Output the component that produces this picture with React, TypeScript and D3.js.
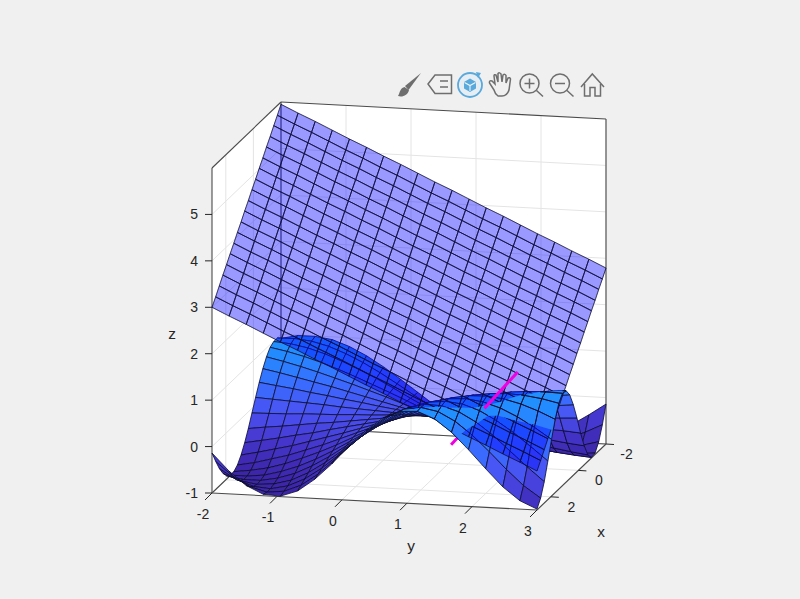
import { useEffect, useRef } from 'react'
import * as d3 from 'd3'

// grid positions, shared by both surfaces
const xGrid = [-2, -1.737, -1.474, -1.211, -0.947, -0.684, -0.421, -0.158, 0.105, 0.368, 0.632, 0.895, 1.158, 1.421, 1.684, 1.947, 2.211, 2.474, 2.737, 3]
const yGrid = xGrid

// wavy surface heights, one row per x
const surfaceZ = [
  [.91, .99, .99, .94, .81, .63, .41, .16, -.10, -.36, -.59, -.78, -.92, -.99, -.99, -.93, -.80, -.62, -.39, -.14],
  [.99, 1.0, .96, .87, .73, .56, .36, .14, -.09, -.31, -.52, -.70, -.85, -.94, -.99, -.99, -.94, -.84, -.69, -.51],
  [.99, .96, .89, .78, .64, .48, .31, .12, -.08, -.27, -.45, -.61, -.75, -.87, -.95, -.99, -1.0, -.97, -.90, -.80],
  [.94, .87, .78, .67, .54, .40, .25, .10, -.06, -.22, -.37, -.52, -.65, -.76, -.85, -.92, -.97, -1.0, -1.0, -.97],
  [.81, .73, .64, .54, .43, .32, .20, .08, -.05, -.17, -.30, -.41, -.52, -.62, -.72, -.80, -.87, -.92, -.96, -.99],
  [.63, .56, .48, .40, .32, .23, .14, .05, -.04, -.13, -.21, -.30, -.39, -.47, -.55, -.62, -.69, -.75, -.81, -.86],
  [.41, .36, .31, .25, .20, .14, .09, .03, -.02, -.08, -.13, -.19, -.24, -.30, -.35, -.40, -.45, -.50, -.55, -.59],
  [.16, .14, .12, .10, .08, .05, .03, .01, -.01, -.03, -.05, -.07, -.09, -.11, -.13, -.15, -.17, -.19, -.21, -.24],
  [-.10, -.09, -.08, -.06, -.05, -.04, -.02, -.01, .01, .02, .03, .05, .06, .08, .09, .10, .12, .13, .14, .16],
  [-.36, -.31, -.27, -.22, -.17, -.13, -.08, -.03, .02, .07, .12, .16, .21, .26, .31, .35, .40, .44, .48, .52],
  [-.59, -.52, -.45, -.37, -.30, -.21, -.13, -.05, .03, .12, .20, .28, .36, .43, .51, .58, .64, .71, .76, .81],
  [-.78, -.70, -.61, -.52, -.41, -.30, -.19, -.07, .05, .16, .28, .39, .50, .59, .68, .77, .84, .89, .94, .97],
  [-.92, -.85, -.75, -.65, -.52, -.39, -.24, -.09, .06, .21, .36, .50, .62, .73, .83, .90, .96, .99, 1.0, .99],
  [-.99, -.94, -.87, -.76, -.62, -.47, -.30, -.11, .08, .26, .43, .59, .73, .85, .93, .98, 1.0, .98, .93, .85],
  [-.99, -.99, -.95, -.85, -.72, -.55, -.35, -.13, .09, .31, .51, .68, .83, .93, .99, 1.0, .96, .87, .74, .58],
  [-.93, -.99, -.99, -.92, -.80, -.62, -.40, -.15, .10, .35, .58, .77, .90, .98, 1.0, .95, .84, .67, .46, .22],
  [-.80, -.94, -1.0, -.97, -.87, -.69, -.45, -.17, .12, .40, .64, .84, .96, 1.0, .96, .84, .64, .40, .12, -.17],
  [-.62, -.84, -.97, -1.0, -.92, -.75, -.50, -.19, .13, .44, .71, .89, .99, .98, .87, .67, .40, .08, -.24, -.54],
  [-.39, -.69, -.90, -1.0, -.96, -.81, -.55, -.21, .14, .48, .76, .94, 1.0, .93, .74, .46, .12, -.24, -.57, -.82],
  [-.14, -.51, -.80, -.97, -.99, -.86, -.59, -.24, .16, .52, .81, .97, .99, .85, .58, .22, -.17, -.54, -.82, -.98],
]

// the flat sheet: height = planeByX[i] + planeByY[j]
const planeByX = [0, -.16, -.31, -.47, -.62, -.78, -.93, -1.09, -1.24, -1.40, -1.55, -1.71, -1.86, -2.02, -2.17, -2.33, -2.48, -2.64, -2.80, -2.95]
const planeByY = [5.95, 5.78, 5.62, 5.45, 5.28, 5.12, 4.95, 4.79, 4.62, 4.45, 4.29, 4.12, 3.95, 3.79, 3.62, 3.45, 3.29, 3.12, 2.96, 2.79]
// the wave pokes through the sheet a little earlier than the read heights say
const sheetGap = 0.15

// magenta line: low end, where it meets the sheet, high end
const lineX = [1.5, 2.1, 2.7]
const lineY = [1.36, 2.0, 2.64]
const lineZ = [-.14, .86, 1.86]

const xTicks = [-2, 0, 2]
const yTicks = [-2, -1, 0, 1, 2, 3]
const zTicks = [-1, 0, 1, 2, 3, 4, 5]

const xLim = [-2, 3]
const yLim = [-2, 3]
const zLim = [-1, 6]

const font = '"Liberation Sans", Arial, sans-serif'
const ink = '#262626'
const gridColor = '#e4e4e4'

// each data axis maps to a screen offset from the far bottom corner
const origin = [281, 427]
const xToH = d3.scaleLinear().domain(xLim).range([0, -69])
const xToV = d3.scaleLinear().domain(xLim).range([0, 66])
const yToH = d3.scaleLinear().domain(yLim).range([0, 325])
const yToV = d3.scaleLinear().domain(yLim).range([0, 17])
const zToV = d3.scaleLinear().domain(zLim).range([0, -325])

type P3 = [number, number, number]
const project = ([x, y, z]: P3): [number, number] => [
  origin[0] + xToH(x) + yToH(y),
  origin[1] + xToV(x) + yToV(y) + zToV(z),
]

// painter's order, bigger means closer to the camera
const depthX = d3.scaleLinear().domain(xLim).range([0, 105300])
const depthY = d3.scaleLinear().domain(yLim).range([0, 22425])
const depthZ = d3.scaleLinear().domain(zLim).range([0, 22557])
const depth = (pts: P3[]) => d3.mean(pts, (p) => depthX(p[0]) + depthY(p[1]) + depthZ(p[2])) as number

const colormap = d3.scaleLinear<string>()
  .domain([-1, -0.5, 0, 0.5, 1])
  .range(['#3b26a6', '#4433c8', '#4a50f0', '#3a6cff', '#2090ff'])

const path = d3.line()
const edgeColor = '#0c0c30'

type Quad = { pts: P3[]; z: number; gaps: number[] }

function quads(heights: (i: number, j: number) => number) {
  const out: Quad[] = []
  const corners = [[0, 0], [1, 0], [1, 1], [0, 1]]
  for (let i = 0; i < xGrid.length - 1; i++) {
    for (let j = 0; j < yGrid.length - 1; j++) {
      out.push({
        z: heights(i, j),
        pts: corners.map(([a, b]) => [xGrid[i + a], yGrid[j + b], heights(i + a, j + b)] as P3),
        gaps: corners.map(([a, b]) => heights(i + a, j + b) - (planeByX[i + a] + planeByY[j + b]) + sheetGap),
      })
    }
  }
  return out
}

const mix = (a: P3, b: P3, t: number): P3 => [
  d3.interpolateNumber(a[0], b[0])(t),
  d3.interpolateNumber(a[1], b[1])(t),
  d3.interpolateNumber(a[2], b[2])(t),
]

// the bit of a quad that stands above the sheet, and its visible edge pieces
function abovePart(q: Quad) {
  const poly: P3[] = []
  const edges: [P3, P3][] = []
  q.pts.forEach((a, k) => {
    const n = (k + 1) % 4
    const b = q.pts[n]
    const fa = q.gaps[k]
    const fb = q.gaps[n]
    const cut = fa * fb < 0 ? mix(a, b, fa / (fa - fb)) : null
    if (fa > 0) poly.push(a)
    if (cut) poly.push(cut)
    if (fa > 0 && fb > 0) edges.push([a, b])
    else if (fa > 0 && cut) edges.push([a, cut])
    else if (fb > 0 && cut) edges.push([cut, b])
  })
  return { poly, edges, z: q.z }
}

function Toolbar() {
  const grey = '#6e6e6e'
  const blue = '#5aa9dc'
  const line = { fill: 'none', stroke: grey, strokeWidth: 1.5 }
  return (
    <g>
      {/* brush */}
      <path d="M421,73 L405,86 L408.5,90 Z" fill={grey} />
      <path d="M404.5,87 C401,88 400,91 399,94 L398,96 C402,97.5 408,95.5 409,90 Z" fill={grey} />
      {/* legend */}
      <path d="M428,84 L435,75 L451.5,75 L451.5,93.5 L435,93.5 Z" {...line} />
      <path d="M440,81 L448,81 M440,87 L448,87" {...line} />
      {/* rotate */}
      <circle cx={470} cy={85} r={12} fill="#dcebf5" fillOpacity={0.5} stroke={blue} strokeWidth={1.8} />
      <path d="M476,72 L481,73 L478,78 Z" fill={blue} />
      <path d="M470,78.5 L476,82 L476,88.5 L470,92 L464,88.5 L464,82 Z" fill={blue} />
      <path d="M464.5,82.5 L470,85.5 L475.5,82.5 M470,85.5 L470,91" fill="none" stroke="#eef5fa" strokeWidth={1.1} />
      {/* hand */}
      <path d="M494,90 L489.5,83 Q489,80 492,81 L495,84 L494,76 Q494,74 496,75 L498,82 L498,73.5 Q499.5,72 501,74 L502,82 L503,75 Q505,73.5 506,75.5 L506,83 L508,78 Q510,77 510.5,79 L509,90 Q507,96 502,96 L498,96 Q495,94 494,90 Z" {...line} />
      {/* zoom in */}
      <circle cx={529.5} cy={83.5} r={9.5} {...line} />
      <path d="M536.5,90.5 L543,96.5 M524.5,83.5 L534.5,83.5 M529.5,78.5 L529.5,88.5" {...line} />
      {/* zoom out */}
      <circle cx={560} cy={83.5} r={9.5} {...line} />
      <path d="M567,90.5 L573.5,96.5 M555,83.5 L565,83.5" {...line} />
      {/* home */}
      <path d="M581,87 L592.3,74 L604,87" {...line} />
      <path d="M584.5,84 L584.5,96 L590,96 L590,87.5 L595,87.5 L595,96 L600.5,96 L600.5,84" {...line} />
    </g>
  )
}

export default function App() {
  const plotRef = useRef<SVGGElement>(null)

  useEffect(() => {
    const g = d3.select(plotRef.current)
    g.selectAll('*').remove()

    const [x0, x1] = xLim
    const [y0, y1] = yLim
    const [z0, z1] = zLim

    // white walls and floor
    const outline: P3[] = [
      [x1, y0, z1], [x0, y0, z1], [x0, y1, z1], [x0, y1, z0], [x1, y1, z0], [x1, y0, z0],
    ]
    g.append('path').attr('d', path(outline.map(project)) + 'Z').attr('fill', '#fff')

    const seg = (a: P3, b: P3, color: string, w = 1) =>
      g.append('path')
        .attr('d', path([a, b].map(project)))
        .attr('stroke', color)
        .attr('stroke-width', w)
        .attr('fill', 'none')

    // grid on the two walls and the floor
    yTicks.forEach((y) => {
      seg([x1, y, z0], [x0, y, z0], gridColor)
      seg([x0, y, z0], [x0, y, z1], gridColor)
    })
    xTicks.forEach((x) => {
      seg([x, y0, z0], [x, y1, z0], gridColor)
      seg([x, y0, z0], [x, y0, z1], gridColor)
    })
    zTicks.forEach((z) => {
      seg([x1, y0, z], [x0, y0, z], gridColor)
      seg([x0, y0, z], [x0, y1, z], gridColor)
    })

    // box edges behind the surfaces
    const boxEdges: [P3, P3][] = [
      [[x0, y0, z0], [x0, y0, z1]],
      [[x0, y0, z0], [x0, y1, z0]],
      [[x0, y0, z0], [x1, y0, z0]],
      [[x0, y0, z1], [x0, y1, z1]],
      [[x0, y0, z1], [x1, y0, z1]],
      [[x1, y0, z0], [x1, y0, z1]],
      [[x0, y1, z0], [x0, y1, z1]],
      [[x1, y0, z0], [x1, y1, z0]],
      [[x1, y1, z0], [x0, y1, z0]],
    ]
    boxEdges.forEach(([a, b]) => seg(a, b, '#4a4a4a', 1.1))

    // ticks and labels
    const tickText = (pos: [number, number], label: string | number, anchor = 'middle', size = 14) =>
      g.append('text')
        .attr('x', pos[0])
        .attr('y', pos[1])
        .attr('text-anchor', anchor)
        .attr('dominant-baseline', 'central')
        .attr('font-family', font)
        .attr('font-size', size)
        .attr('fill', ink)
        .text(label)

    zTicks.forEach((z) => {
      const [px, py] = project([x1, y0, z])
      g.append('path').attr('d', path([[px, py], [px - 7, py]])).attr('stroke', ink)
      tickText([px - 14, py], z, 'end')
    })
    yTicks.forEach((y) => {
      const [px, py] = project([x1, y, z0])
      g.append('path').attr('d', path([[px, py], [px - 7, py + 7]])).attr('stroke', ink)
      tickText([px - 9, py + 21], y)
    })
    xTicks.forEach((x) => {
      const [px, py] = project([x, y1, z0])
      g.append('path').attr('d', path([[px, py], [px + 8, py + 0.5]])).attr('stroke', ink)
      tickText([px + 20.5, py + 10], x)
    })
    tickText([172, 333], 'z', 'middle', 15.4)
    tickText([411, 545], 'y', 'middle', 15.4)
    tickText([601, 531], 'x', 'middle', 15.4)

    // soft edges like the photographed original
    const marks = g.append('g').attr('filter', 'url(#soft)')

    const pt = (k: number): P3 => [lineX[k], lineY[k], lineZ[k]]
    const magenta = (a: number, b: number) =>
      marks.append('path')
        .attr('d', path([pt(a), pt(b)].map(project)))
        .attr('stroke', '#f000e0')
        .attr('stroke-width', 3)
        .attr('fill', 'none')

    // lower part of the line sits under the wave
    magenta(0, 1)

    const wave = quads((i, j) => surfaceZ[i][j])
    wave.sort((a, b) => depth(a.pts) - depth(b.pts))
    marks.append('g').selectAll('path')
      .data(wave)
      .join('path')
      .attr('d', (d) => path(d.pts.map(project)) + 'Z')
      .attr('fill', (d) => colormap(d.z))
      .attr('stroke', edgeColor)
      .attr('stroke-width', 0.8)
      .attr('stroke-linejoin', 'round')

    const sheet = quads((i, j) => planeByX[i] + planeByY[j])
    marks.append('g').selectAll('path')
      .data(sheet)
      .join('path')
      .attr('d', (d) => path(d.pts.map(project)) + 'Z')
      .attr('fill', '#0000ff')
      .attr('fill-opacity', 0.4)
      .attr('stroke', edgeColor)
      .attr('stroke-width', 0.8)

    // wave parts that stand in front of the sheet
    const above = wave.map(abovePart).filter((d) => d.poly.length > 2)
    marks.append('g').selectAll('path')
      .data(above)
      .join('path')
      .attr('d', (d) => path(d.poly.map(project)) + 'Z')
      .attr('fill', (d) => colormap(d.z))
    marks.append('g').selectAll('path')
      .data(above.flatMap((d) => d.edges))
      .join('path')
      .attr('d', (d) => path(d.map(project)))
      .attr('fill', 'none')
      .attr('stroke', edgeColor)
      .attr('stroke-width', 0.8)

    magenta(1, 2)
  }, [])

  return (
    <svg
      width={800}
      height={599}
      style={{ position: 'absolute', left: 0, top: 0, background: '#f0f0f0' }}
    >
      <defs>
        <filter id="soft" x="-5%" y="-5%" width="110%" height="110%">
          <feGaussianBlur stdDeviation={0.35} />
        </filter>
      </defs>
      <g ref={plotRef} />
      <Toolbar />
    </svg>
  )
}
